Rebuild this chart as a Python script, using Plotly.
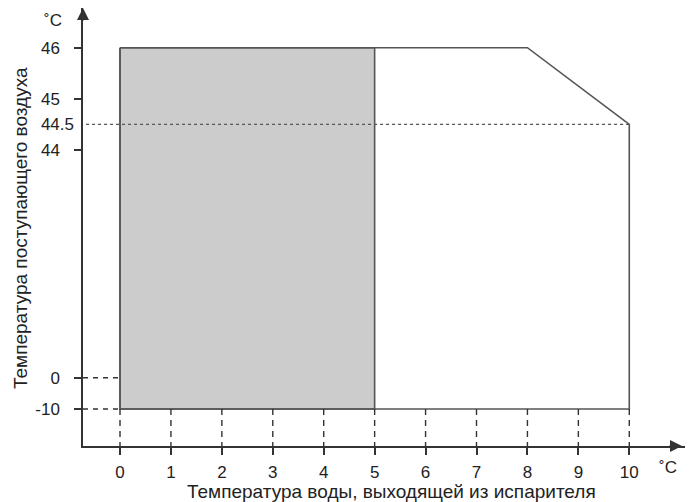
import numpy as np
import plotly.graph_objects as go

# ---- data ----
x_ticks = [0, 1, 2, 3, 4, 5, 6, 7, 8, 9, 10]
y_tick_values = [-10, 0, 44, 45, 46]
y_tick_labels = ["-10", "0", "44", "45", "46"]
y_mark_value = 44.5
y_mark_label = "44.5"

# operating envelope (water outlet temp, inlet air temp)
env_x = [0, 8, 10, 10, 0, 0]
env_y = [46, 46, 44.5, -10, -10, 46]
# shaded zone
shade_x = [0, 5, 5, 0, 0]
shade_y = [46, 46, -10, -10, 46]

x_title = "Температура воды, выходящей из испарителя"
y_title = "Температура поступающего воздуха"
unit = "˚C"

# ---- broken (piecewise-linear) y scale ----
_brk_v = [-10, 0, 44, 46]
_brk_p = [0, 31.3, 259, 361.3]


def ys(v):
    return np.interp(np.asarray(v, dtype=float), _brk_v, _brk_p)


W, H = 696, 502
ml, mr, mt, mb = 83, 11, 8, 56
xr = [-0.7265, 11.094]
yr = [-37, 401]
PW, PH = W - ml - mr, H - mt - mb


def px(xp):
    return (xp - ml) / PW


def py(yp):
    return (H - mb - yp) / PH


LINE = "#555555"
AX = "#333333"
TXT = "#222222"
FONT = "Liberation Sans, Arial, sans-serif"

fig = go.Figure()

# shaded region
fig.add_trace(go.Scatter(x=shade_x, y=ys(shade_y), mode="lines", fill="toself",
                         fillcolor="#cccccc", line=dict(color=LINE, width=1.6),
                         hoverinfo="skip", showlegend=False))
# envelope outline
fig.add_trace(go.Scatter(x=env_x, y=ys(env_y), mode="lines",
                         line=dict(color=LINE, width=1.6),
                         hoverinfo="skip", showlegend=False))
# dotted 44.5 reference line
fig.add_trace(go.Scatter(x=[xr[0] + 0.06, max(env_x)], y=ys([y_mark_value, y_mark_value]),
                         mode="lines", line=dict(color=LINE, width=1.3, dash="3px,3px"),
                         hoverinfo="skip", showlegend=False))
# dashed guide lines at 0 and -10
for v in [0, -10]:
    fig.add_trace(go.Scatter(x=[xr[0], min(env_x)], y=ys([v, v]), mode="lines",
                             line=dict(color=AX, width=1.4, dash="5px,5px"),
                             hoverinfo="skip", showlegend=False))
# dashed vertical guides from bottom of envelope to x axis
for xv in x_ticks:
    fig.add_trace(go.Scatter(x=[xv, xv], y=[float(ys(min(env_y))), yr[0]], mode="lines",
                             line=dict(color=AX, width=1.4, dash="6px,5px"),
                             hoverinfo="skip", showlegend=False))

fig.update_layout(
    width=W, height=H,
    margin=dict(l=ml, r=mr, t=mt, b=mb, autoexpand=False),
    plot_bgcolor="white", paper_bgcolor="white",
    font=dict(family=FONT, size=17, color=TXT),
    showlegend=False,
    xaxis=dict(range=xr, tickvals=x_ticks, ticktext=[str(v) for v in x_ticks],
               showgrid=False, zeroline=False, showline=True, linecolor=AX, linewidth=1.5,
               ticks="outside", ticklen=7, tickwidth=1.5, tickcolor=AX, automargin=False,
               ticklabelstandoff=3, tickfont=dict(size=17, color=TXT)),
    yaxis=dict(range=yr, tickvals=list(ys(y_tick_values)), ticktext=y_tick_labels,
               showgrid=False, zeroline=False, showline=True, linecolor=AX, linewidth=1.5,
               ticks="outside", ticklen=7, tickwidth=1.5, tickcolor=AX, automargin=False,
               ticklabelstandoff=11, tickfont=dict(size=17, color=TXT)),
    yaxis2=dict(range=yr, overlaying="y", side="left", tickvals=[float(ys(y_mark_value))],
                ticktext=[y_mark_label], showgrid=False, zeroline=False, showline=False,
                ticks="", ticklabelstandoff=8, automargin=False,
                tickfont=dict(size=17, color=TXT)),
)
# dummy trace to activate yaxis2
fig.add_trace(go.Scatter(x=[None], y=[None], yaxis="y2", showlegend=False, hoverinfo="skip"))

# axis arrows
fig.add_annotation(xref="paper", yref="paper", x=0, y=1, ax=0, ay=14, text="",
                   showarrow=True, arrowhead=2, arrowsize=1.6, arrowwidth=1.5, arrowcolor=AX)
fig.add_annotation(xref="paper", yref="paper", x=0.995, y=0, ax=-14, ay=0, text="",
                   showarrow=True, arrowhead=2, arrowsize=1.6, arrowwidth=1.5, arrowcolor=AX)

# unit labels
fig.add_annotation(xref="paper", yref="paper", x=px(53), y=py(21), text=unit,
                   xanchor="center", yanchor="middle", showarrow=False, font=dict(size=17))
fig.add_annotation(xref="paper", yref="paper", x=px(668), y=py(467), text=unit,
                   xanchor="center", yanchor="middle", showarrow=False, font=dict(size=17))

# axis titles
fig.add_annotation(xref="paper", yref="paper", x=px(391), y=py(491), text=x_title,
                   xanchor="center", yanchor="middle", showarrow=False, font=dict(size=19))
fig.add_annotation(xref="paper", yref="paper", x=px(20), y=py(228), text=y_title,
                   xanchor="center", yanchor="middle", showarrow=False, textangle=-90,
                   font=dict(size=19))

fig.write_html("out.html", config={"displayModeBar": False},
               post_script="document.body.style.margin='0';document.body.style.padding='0';")
